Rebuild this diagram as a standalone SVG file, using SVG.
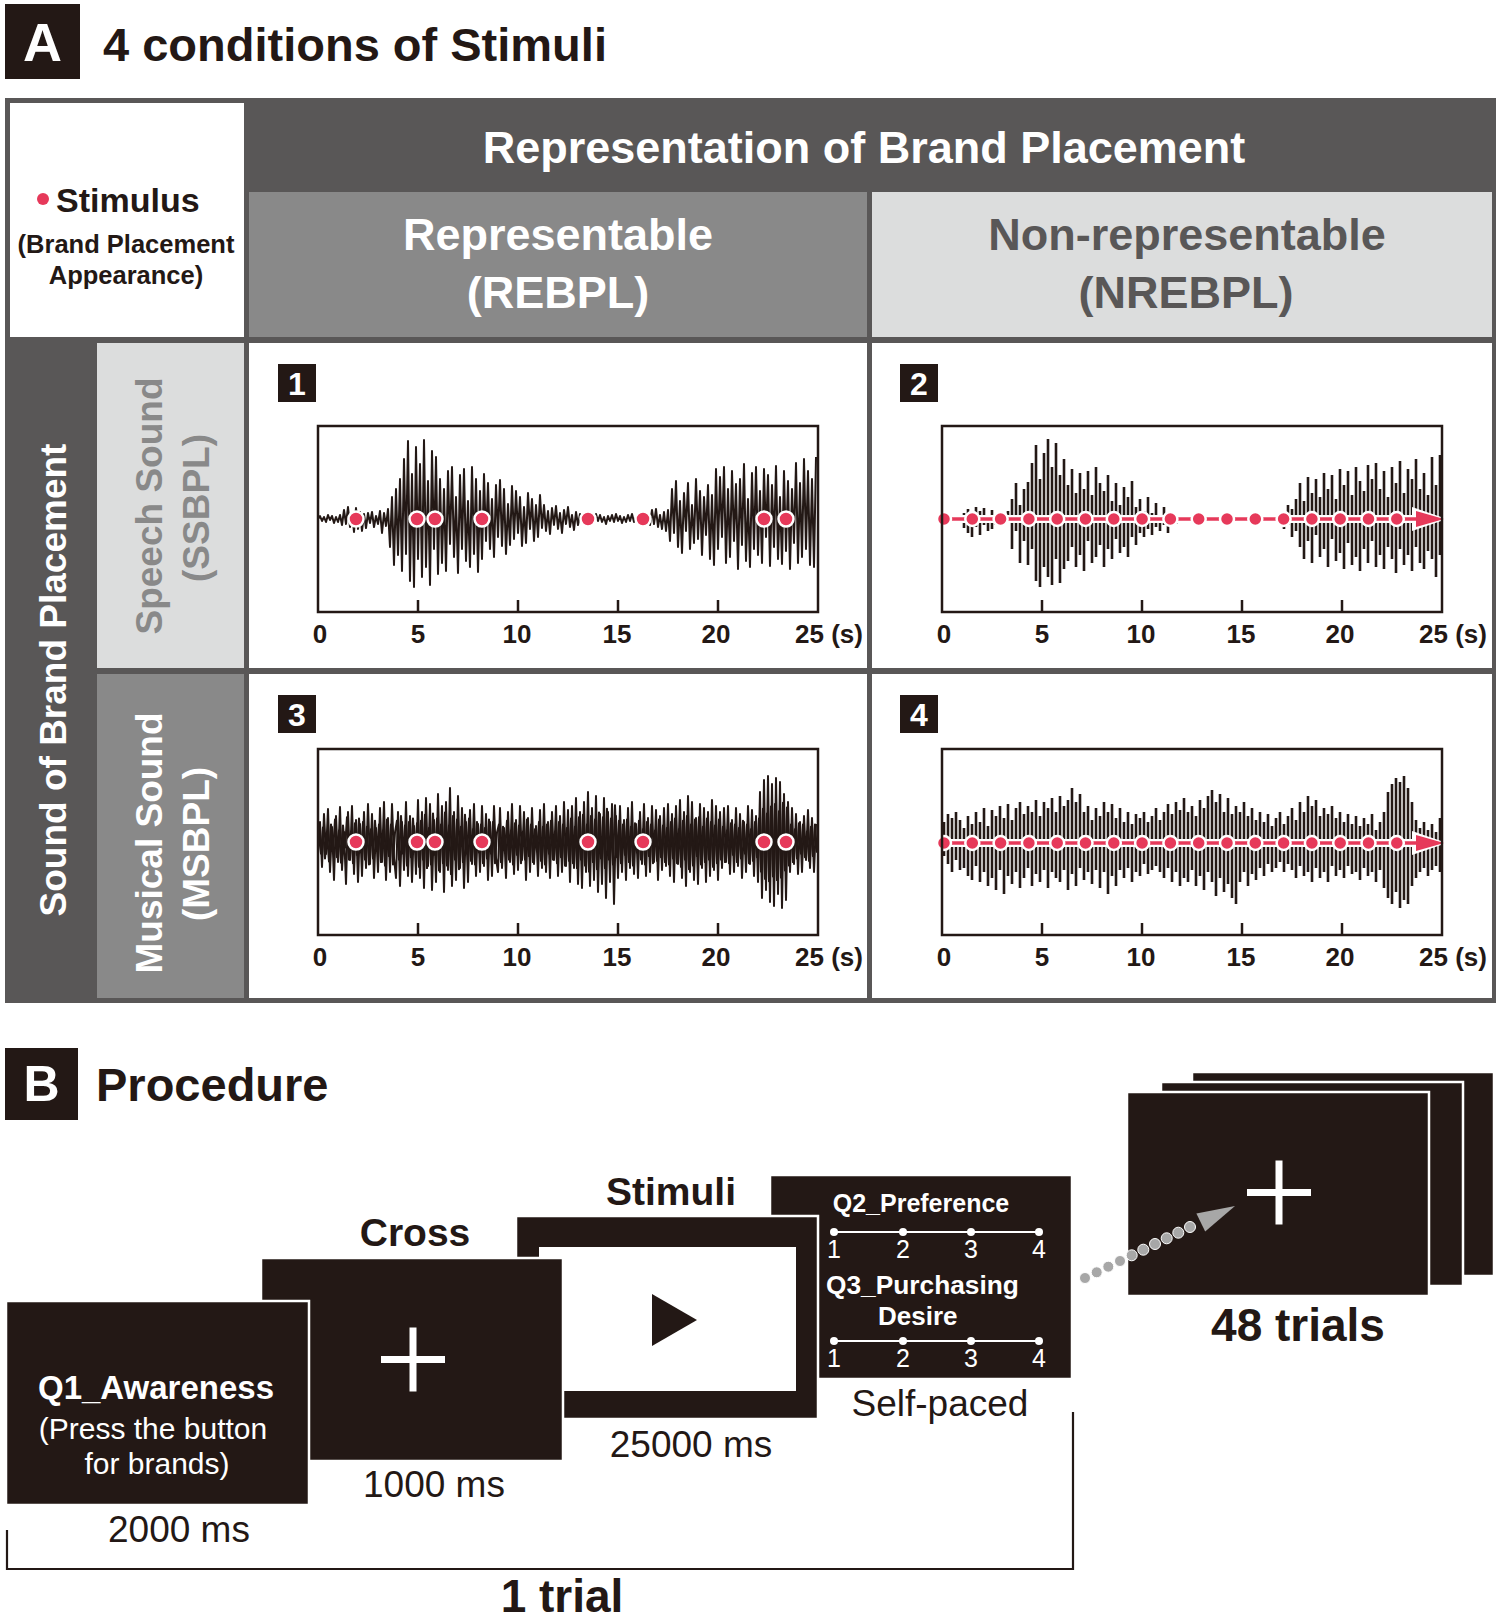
<svg xmlns="http://www.w3.org/2000/svg" xmlns:xlink="http://www.w3.org/1999/xlink" width="1500" height="1619" viewBox="0 0 1500 1619">
<style>
.f{font-family:"Liberation Sans",Arial,Helvetica,sans-serif}
.b{font-weight:bold}
.w{fill:#fff}
.k{fill:#231815}
.m{text-anchor:middle}
.wave{fill:none;stroke:#231815;stroke-width:2;stroke-linejoin:round}
.spk{fill:none;stroke:#231815;stroke-width:2.6}
.pbox{fill:none;stroke:#231815;stroke-width:2.5}
.tick{stroke:#231815;stroke-width:2.5}
.ax{font-weight:bold;font-size:26px;fill:#231815;text-anchor:middle}
.dot{fill:#e6395a;stroke:#fff;stroke-width:2.5}
.scr{fill:#231815;stroke:#fff;stroke-width:2.5}
.badge{fill:#231815}
.bnum{font-weight:bold;font-size:32px;fill:#fff;text-anchor:middle}
.ms{font-size:37px;fill:#231815;text-anchor:middle}
.lbl{font-weight:bold;font-size:39px;fill:#231815;text-anchor:middle}
</style>
<defs>
<g id="dots8">
<circle class="dot" cx="38" cy="0" r="7.5"/>
<circle class="dot" cx="99" cy="0" r="7.5"/>
<circle class="dot" cx="117" cy="0" r="7.5"/>
<circle class="dot" cx="164" cy="0" r="7.5"/>
<circle class="dot" cx="270" cy="0" r="7.5"/>
<circle class="dot" cx="325" cy="0" r="7.5"/>
<circle class="dot" cx="446" cy="0" r="7.5"/>
<circle class="dot" cx="468" cy="0" r="7.5"/>
</g>
<g id="dotrow">
<line x1="944" y1="0" x2="1418" y2="0" stroke="#fff" stroke-width="8"/>
<polygon points="1412,-12 1447,0 1412,12" fill="#fff"/>
<line x1="944" y1="0" x2="1420" y2="0" stroke="#e6395a" stroke-width="3.5"/>
<polygon points="1416,-8 1444,0 1416,8" fill="#e6395a"/>
<circle class="dot" cx="944" cy="0" r="7"/>
<circle class="dot" cx="972.3" cy="0" r="7"/>
<circle class="dot" cx="1000.6" cy="0" r="7"/>
<circle class="dot" cx="1028.9" cy="0" r="7"/>
<circle class="dot" cx="1057.2" cy="0" r="7"/>
<circle class="dot" cx="1085.5" cy="0" r="7"/>
<circle class="dot" cx="1113.8" cy="0" r="7"/>
<circle class="dot" cx="1142.1" cy="0" r="7"/>
<circle class="dot" cx="1170.4" cy="0" r="7"/>
<circle class="dot" cx="1198.7" cy="0" r="7"/>
<circle class="dot" cx="1227" cy="0" r="7"/>
<circle class="dot" cx="1255.3" cy="0" r="7"/>
<circle class="dot" cx="1283.6" cy="0" r="7"/>
<circle class="dot" cx="1311.9" cy="0" r="7"/>
<circle class="dot" cx="1340.2" cy="0" r="7"/>
<circle class="dot" cx="1368.5" cy="0" r="7"/>
<circle class="dot" cx="1396.8" cy="0" r="7"/>
</g>
<g id="axis">
<rect class="pbox" x="0" y="0" width="500" height="186"/>
<line class="tick" x1="100" y1="186" x2="100" y2="174"/>
<line class="tick" x1="200" y1="186" x2="200" y2="174"/>
<line class="tick" x1="300" y1="186" x2="300" y2="174"/>
<line class="tick" x1="400" y1="186" x2="400" y2="174"/>
<text class="ax" x="2" y="217">0</text>
<text class="ax" x="100" y="217">5</text>
<text class="ax" x="199" y="217">10</text>
<text class="ax" x="299" y="217">15</text>
<text class="ax" x="398" y="217">20</text>
<text class="ax" x="477" y="217" style="text-anchor:start">25 (s)</text>
</g>
</defs>
<g class="f">
<g id="titleA">
<rect x="5" y="4" width="75" height="75" fill="#231815"/>
<text class="b w m" x="42.5" y="61" font-size="54">A</text>
<text class="b k" x="103" y="61" font-size="47">4 conditions of Stimuli</text>
</g>
<g id="table">
<rect x="5" y="98" width="1491" height="905" fill="#595757"/>
<rect x="10" y="103" width="234" height="234" fill="#fff"/>
<rect x="249" y="192" width="618" height="145" fill="#898989"/>
<rect x="872" y="192" width="620" height="145" fill="#dcdddd"/>
<rect x="97" y="343" width="147" height="325" fill="#dcdddd"/>
<rect x="97" y="674" width="147" height="324" fill="#898989"/>
<rect x="249" y="343" width="618" height="325" fill="#fff"/>
<rect x="872" y="343" width="620" height="325" fill="#fff"/>
<rect x="249" y="674" width="618" height="324" fill="#fff"/>
<rect x="872" y="674" width="620" height="324" fill="#fff"/>
</g>
<g id="corner">
<circle cx="43" cy="199" r="6" fill="#e6395a"/>
<text class="b k" x="56" y="212" font-size="34">Stimulus</text>
<text class="b k m" x="126" y="253" font-size="25.5">(Brand Placement</text>
<text class="b k m" x="126" y="284" font-size="25.5">Appearance)</text>
</g>
<g id="header">
<text class="b w m" x="864" y="163" font-size="45">Representation of Brand Placement</text>
</g>
<g id="col-rebpl">
<text class="b w m" x="558" y="250" font-size="45">Representable</text>
<text class="b w m" x="558" y="308" font-size="45">(REBPL)</text>
</g>
<g id="col-nrebpl">
<text class="b m" fill="#595757" x="1187" y="250" font-size="45">Non-representable</text>
<text class="b m" fill="#595757" x="1186" y="308" font-size="45">(NREBPL)</text>
</g>
<g id="row-sound">
<text class="b w m" font-size="37" transform="translate(66,680) rotate(-90)">Sound of Brand Placement</text>
</g>
<g id="row-ssbpl">
<text class="b m" fill="#898989" font-size="37" transform="translate(162,506) rotate(-90)">Speech Sound</text>
<text class="b m" fill="#898989" font-size="37" transform="translate(209,508) rotate(-90)">(SSBPL)</text>
</g>
<g id="row-msbpl">
<text class="b w m" font-size="37" transform="translate(162,843) rotate(-90)">Musical Sound</text>
<text class="b w m" font-size="37" transform="translate(209,844) rotate(-90)">(MSBPL)</text>
</g>

<g id="plot1">
<rect class="badge" x="278" y="364" width="38" height="38"/>
<text class="bnum" x="297" y="395">1</text>
<g transform="translate(318,519)">
<polyline class="wave" points="0,0 2,-3 4,2 6,-2 8,3 10,-4 12,1 14,-3 16,4 18,-2 20,3 22,-4 24,6 26,-9 28,5 30,-12 32,8 34,-6 36,13 38,-11 40,10 42,-7 44,12 46,-5 48,9 50,-6 52,4 54,-7 56,8 58,-3 60,5 62,-8 64,14 66,-6 68,7 70,-10 72,28 74,-22 76,46 78,-30 80,36 82,-40 84,52 86,-60 88,35 90,-78 92,62 94,-45 96,68 98,-72 100,40 102,-55 104,58 106,-79 108,48 110,-38 112,66 114,-68 116,30 118,-62 120,55 122,-40 124,44 126,-30 128,52 130,-48 132,25 134,-52 136,38 138,-22 140,54 142,-44 144,30 146,-50 148,42 150,-18 152,48 154,-52 156,35 158,-40 160,53 162,-28 164,40 166,-45 168,22 170,-36 172,30 174,-20 176,38 178,-34 180,18 182,-39 184,27 186,-30 188,35 190,-15 192,26 194,-33 196,20 198,-28 200,14 202,-22 204,27 206,-12 208,24 210,-26 212,10 214,-20 216,22 218,-14 220,18 222,-24 224,9 226,-14 228,12 230,-8 232,15 234,-11 236,6 238,-13 240,10 242,-6 244,14 246,-9 248,5 250,-12 252,8 254,-4 256,11 258,-7 260,6 262,-5 264,3 266,-4 268,2 270,-3 272,4 274,-2 276,3 278,-5 280,2 282,-4 284,3 286,-2 288,5 290,-3 292,2 294,-4 296,3 298,-5 300,2 302,-3 304,4 306,-2 308,3 310,-4 312,2 314,-5 316,3 318,-2 320,4 322,-3 324,2 326,-4 328,3 330,-2 332,6 334,-9 336,5 338,-10 340,8 342,-4 344,10 346,-7 348,12 350,-9 352,22 354,-30 356,14 358,-38 360,28 362,-18 364,34 366,-26 368,12 370,-36 372,30 374,-14 376,24 378,-40 380,20 382,-28 384,36 386,-22 388,16 390,-34 392,40 394,-24 396,46 398,-50 400,30 402,-42 404,18 406,-52 408,44 410,-30 412,38 414,-48 416,22 418,-35 420,50 422,-40 424,26 426,-55 428,42 430,-20 432,48 434,-46 436,30 438,-52 440,36 442,-28 444,44 446,-50 448,18 450,-44 452,47 454,-34 456,28 458,-53 460,40 462,-22 464,45 466,-48 468,32 470,-38 472,50 474,-30 476,24 478,-56 480,44 482,-36 484,38 486,-60 488,30 490,-48 492,46 494,-40 496,48 498,-62"/>
<use xlink:href="#dots8"/>
</g>
<use xlink:href="#axis" transform="translate(318,426)"/>
</g>

<g id="plot2">
<rect class="badge" x="900" y="364" width="38" height="38"/>
<text class="bnum" x="919" y="395">2</text>
<path class="spk" transform="translate(942,519)" d="M2-1V1M6-2V1M10-1V2M14-2V2M18-3V2M22-6V9M26-10V14M30-5V18M34-12V8M38-8V16M42-11V6M46-4V12M50-9V10M54-3V6M58-6V4M62-2V5M66-8V3M70-20V30M74-36V12M78-14V44M82-30V22M86-37V46M90-56V30M94-74V62M98-40V68M102-66V48M106-80V58M110-52V66M114-76V40M118-44V64M122-60V50M126-34V42M130-50V28M134-26V48M138-46V36M142-30V52M146-48V22M150-24V44M154-52V38M158-36V26M162-28V48M166-44V30M170-18V40M174-36V20M178-14V34M182-32V28M186-22V38M190-38V18M194-12V26M198-20V14M202-8V18M206-22V10M210-6V16M214-16V8M218-4V12M222-12V6M226-3V14M230-6V4M234-2V5M238-4V2M242-1V3M246-3V1M250-2V2M254-1V3M258-2V1M262-1V1M266-2V2M270-1V1M274-2V1M278-1V2M282-1V1M286-2V1M290-1V1M294-1V2M298-1V1M302-2V1M306-1V1M310-1V2M314-2V1M318-1V1M322-2V1M326-1V2M330-2V1M334-3V2M338-4V3M342-8V10M346-14V6M350-10V18M354-20V12M358-36V28M362-18V40M366-42V22M370-26V44M374-40V16M378-22V38M382-46V30M386-30V48M390-44V20M394-20V42M398-50V34M402-34V50M406-48V24M410-24V46M414-52V38M418-38V52M422-28V30M426-54V44M430-40V22M434-56V48M438-30V36M442-48V50M446-22V28M450-52V40M454-36V54M458-58V30M462-26V46M466-50V36M470-40V52M474-60V28M478-30V44M482-46V50M486-24V32M490-62V40M494-34V58M498-64V36"/>
<use xlink:href="#dotrow" transform="translate(0,519)"/>
<use xlink:href="#axis" transform="translate(942,426)"/>
</g>

<g id="plot3">
<rect class="badge" x="278" y="695" width="38" height="38"/>
<text class="bnum" x="297" y="726">3</text>
<g transform="translate(318,842)">
<polyline id="mw" class="wave" points="0,8 2,-20 4,25 6,-28 8,12 10,-33 12,30 14,-15 16,38 18,-26 20,20 22,-35 24,28 26,-10 28,42 30,-30 32,18 34,-36 36,32 38,-22 40,40 42,-18 44,34 46,-30 48,26 50,-38 52,22 54,-28 56,36 58,-14 60,30 62,-34 64,20 66,-40 68,38 70,-24 72,30 74,-38 76,16 78,36 80,-30 82,44 84,-20 86,28 88,-40 90,34 92,-26 94,40 96,-16 98,32 100,-42 102,36 104,-30 106,46 108,-44 110,24 112,-38 114,48 116,-22 118,40 120,-48 122,30 124,-36 126,50 128,-40 130,28 132,-54 134,44 136,-30 138,38 140,-46 142,26 144,-34 146,46 148,-20 150,40 152,-32 154,22 156,-38 158,34 160,-18 162,30 164,-36 166,24 168,-28 170,38 172,-20 174,34 176,-36 178,16 180,30 182,-34 184,26 186,-14 188,36 190,-30 192,20 194,-38 196,32 198,-22 200,28 202,-36 204,18 206,-30 208,38 210,-24 212,30 214,-34 216,22 218,-16 220,34 222,-32 224,26 226,-38 228,30 230,-20 232,36 234,-30 236,18 238,-36 240,34 242,-26 244,30 246,-40 248,24 250,-32 252,40 254,-36 256,26 258,-44 260,42 262,-30 264,46 266,-40 268,30 270,-50 272,44 274,-34 276,38 278,-46 280,50 282,-28 284,42 286,-44 288,56 290,-30 292,40 294,-38 296,62 298,-26 300,36 302,-36 304,30 306,-22 308,38 310,-34 312,26 314,-40 316,32 318,-18 320,36 322,-30 324,22 326,-38 328,34 330,-24 332,30 334,-36 336,20 338,-32 340,38 342,-26 344,28 346,-34 348,24 350,-38 352,34 354,-28 356,40 358,-36 360,22 362,-42 364,36 366,-30 368,44 370,-46 372,30 374,-40 376,38 378,-24 380,42 382,-38 384,26 386,-34 388,40 390,-30 392,34 394,-42 396,28 398,-36 400,38 402,-30 404,26 406,-34 408,20 410,-36 412,32 414,-22 416,30 418,-34 420,24 422,-28 424,36 426,-20 428,30 430,-36 432,22 434,-32 436,34 438,-26 440,40 442,-50 444,56 446,-62 448,48 450,-66 452,60 454,-58 456,64 458,-64 460,52 462,-60 464,66 466,-48 468,58 470,-40 472,30 474,-34 476,22 478,-28 480,32 482,-20 484,30 486,-26 488,18 490,-32 492,26 494,-24 496,30 498,-18"/>
<use xlink:href="#mw" transform="translate(1,0) scale(1,-0.6)"/>
<use xlink:href="#dots8"/>
</g>
<use xlink:href="#axis" transform="translate(318,749)"/>
</g>

<g id="plot4">
<rect class="badge" x="900" y="695" width="38" height="38"/>
<text class="bnum" x="919" y="726">4</text>
<path id="ms4" class="spk" transform="translate(942,842)" d="M2-20V14M6-28V22M10-24V30M14-30V18M18-22V28M22-14V26M26-26V34M30-18V38M34-30V24M38-20V40M42-34V30M46-16V44M50-32V36M54-26V48M58-36V28M62-24V52M66-38V34M70-22V42M74-34V30M78-40V46M82-28V36M86-36V26M90-30V44M94-42V32M98-26V40M102-40V28M106-34V46M110-44V30M114-30V36M118-46V40M122-36V28M126-42V48M130-54V32M134-40V44M138-48V26M142-30V38M146-36V30M150-22V42M154-34V28M158-26V46M162-40V30M166-30V52M170-38V34M174-24V44M178-34V28M182-20V36M186-30V26M190-18V40M194-28V30M198-24V34M202-30V22M206-20V32M210-26V28M214-34V24M218-22V30M222-30V36M226-38V26M230-28V40M234-40V30M238-32V44M242-44V36M246-30V40M250-36V28M254-26V44M258-42V34M262-34V48M266-46V30M270-52V40M274-40V54M278-48V36M282-30V50M286-44V42M290-28V56M294-36V62M298-30V40M302-40V30M306-26V44M310-34V32M314-22V38M318-30V26M322-20V34M326-28V22M330-16V30M334-24V26M338-30V20M342-18V30M346-26V22M350-34V28M354-22V36M358-40V24M362-30V34M366-46V30M370-36V40M374-42V26M378-26V36M382-34V30M386-28V40M390-36V24M394-24V34M398-30V28M402-20V36M406-28V24M410-18V32M414-26V30M418-16V38M422-24V26M426-18V34M430-28V30M434-12V40M438-20V28M442-30V46M446-50V56M450-58V62M454-64V50M458-60V66M462-66V58M466-54V62M470-40V44M474-22V36M478-14V30M482-20V26M486-12V34M490-18V28M494-10V24M498-24V30"/>
<use xlink:href="#dotrow" transform="translate(0,843)"/>
<use xlink:href="#axis" transform="translate(942,749)"/>
</g>

<g id="titleB">
<rect x="5" y="1048" width="73" height="72" fill="#231815"/>
<text class="b w m" x="41.5" y="1101" font-size="50">B</text>
<text class="b k" x="96" y="1101" font-size="47">Procedure</text>
</g>

<g id="screen-q23">
<rect class="scr" x="770" y="1175" width="302" height="204"/>
<text class="b w m" x="921" y="1212" font-size="25">Q2_Preference</text>
<line x1="834" y1="1232" x2="1039" y2="1232" stroke="#fff" stroke-width="2"/>
<circle cx="834" cy="1232" r="4" fill="#fff"/><circle cx="903" cy="1232" r="4" fill="#fff"/><circle cx="971" cy="1232" r="4" fill="#fff"/><circle cx="1039" cy="1232" r="4" fill="#fff"/>
<text class="w m" font-size="25" x="834" y="1258">1</text><text class="w m" font-size="25" x="903" y="1258">2</text><text class="w m" font-size="25" x="971" y="1258">3</text><text class="w m" font-size="25" x="1039" y="1258">4</text>
<text class="b w" x="826" y="1294" font-size="26.3">Q3_Purchasing</text>
<text class="b w" x="878" y="1325" font-size="26">Desire</text>
<line x1="834" y1="1341" x2="1039" y2="1341" stroke="#fff" stroke-width="2"/>
<circle cx="834" cy="1341" r="4" fill="#fff"/><circle cx="903" cy="1341" r="4" fill="#fff"/><circle cx="971" cy="1341" r="4" fill="#fff"/><circle cx="1039" cy="1341" r="4" fill="#fff"/>
<text class="w m" font-size="25" x="834" y="1367">1</text><text class="w m" font-size="25" x="903" y="1367">2</text><text class="w m" font-size="25" x="971" y="1367">3</text><text class="w m" font-size="25" x="1039" y="1367">4</text>
<text class="ms" x="940" y="1416">Self-paced</text>
</g>

<g id="screen-stimuli">
<rect class="scr" x="516" y="1216" width="302" height="203"/>
<rect x="539" y="1247" width="257" height="144" fill="#fff"/>
<polygon points="652,1294 652,1346 697,1320" fill="#231815"/>
<text class="lbl" x="671" y="1205">Stimuli</text>
<text class="ms" x="691" y="1457">25000 ms</text>
</g>

<g id="screen-cross">
<rect class="scr" x="261" y="1258" width="302" height="203"/>
<rect x="381" y="1356" width="64" height="7" fill="#fff"/>
<rect x="409.5" y="1327.5" width="7" height="64" fill="#fff"/>
<text class="lbl" x="415" y="1246">Cross</text>
<text class="ms" x="434" y="1497">1000 ms</text>
</g>

<g id="screen-q1">
<rect class="scr" x="6" y="1301" width="303" height="204"/>
<text class="b w m" x="156" y="1399" font-size="33">Q1_Awareness</text>
<text class="w m" x="153" y="1439" font-size="30">(Press the button</text>
<text class="w m" x="157" y="1474" font-size="30">for brands)</text>
<text class="ms" x="179" y="1542">2000 ms</text>
</g>

<g id="trials-stack">
<rect class="scr" x="1192" y="1072" width="302" height="204"/>
<rect class="scr" x="1161" y="1082" width="302" height="204"/>
<rect class="scr" x="1127" y="1092" width="302" height="204"/>
<rect x="1247" y="1189" width="64" height="7" fill="#fff"/>
<rect x="1275.5" y="1160.5" width="7" height="64" fill="#fff"/>
<text class="b k m" x="1298" y="1341" font-size="46">48 trials</text>
</g>

<g id="connectors">
<g fill="#a7a7a7" stroke="#fff" stroke-width="1">
<circle cx="1085" cy="1278" r="5.5"/>
<circle cx="1096.7" cy="1272.3" r="5.5"/>
<circle cx="1108.3" cy="1266.7" r="5.5"/>
<circle cx="1120" cy="1261" r="5.5"/>
<circle cx="1131.7" cy="1255.3" r="5.5"/>
<circle cx="1143.3" cy="1249.7" r="5.5"/>
<circle cx="1155" cy="1244" r="5.5"/>
<circle cx="1166.7" cy="1238.3" r="5.5"/>
<circle cx="1178.3" cy="1232.7" r="5.5"/>
<circle cx="1190" cy="1227" r="5.5"/>
</g>
<polygon points="1235,1206 1196.4,1213.6 1205.2,1231.6" fill="#a7a7a7"/>
<polyline points="7,1530 7,1569 1073,1569 1073,1412" fill="none" stroke="#231815" stroke-width="2.2"/>
<text class="b k m" x="562" y="1612" font-size="46">1 trial</text>
</g>
</g>
</svg>
